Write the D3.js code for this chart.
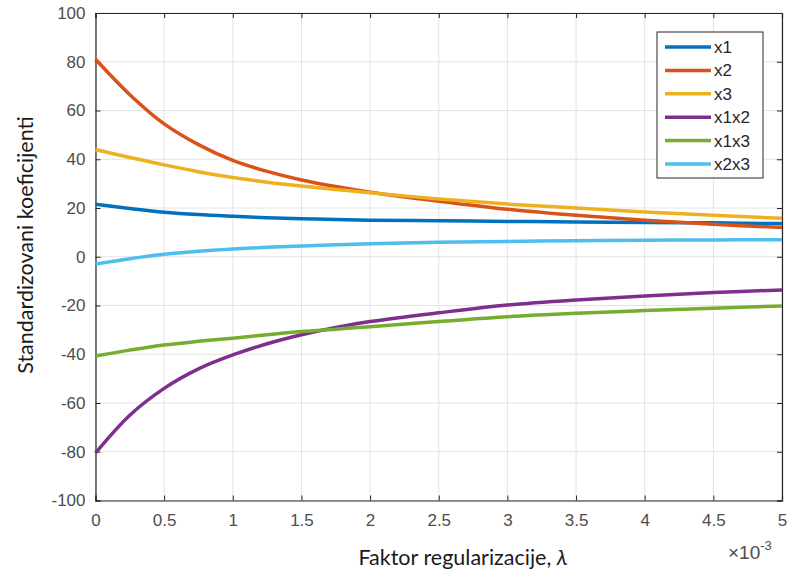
<!DOCTYPE html>
<html lang="sr">
<head>
<meta charset="UTF-8">
<title>Standardizovani koeficijenti</title>
<script src="https://cdn.jsdelivr.net/npm/d3@7"></script>
<style>
  body { margin: 0; background: #fff; }
  svg { display: block; }
  .tick text { font-family: "Liberation Sans", Arial, sans-serif; font-size: 17px; fill: #4d4d4d; }
  .lbl { font-family: Lato, "Open Sans", sans-serif; font-size: 21.5px; fill: #1a1a1a; }
  .leg { font-family: "Liberation Sans", Arial, sans-serif; font-size: 17px; fill: #262626; }
</style>
</head>
<body>
<svg width="787" height="571"></svg>
<script>
// lambda (x 10^-3)
const lambda = [0, 0.25, 0.5, 0.75, 1, 1.25, 1.5, 1.75, 2, 2.5, 3, 3.5, 4, 4.5, 5];
const x1   = [21.5, 19.8, 18.3, 17.3, 16.6, 16.0, 15.6, 15.3, 15.0, 14.8, 14.5, 14.3, 14.1, 13.9, 13.6];
const x2   = [81, 66.5, 54.5, 46, 39.5, 35, 31.5, 28.8, 26.5, 22.8, 19.5, 17, 15, 13.3, 12];
const x3   = [44, 40.7, 37.7, 34.9, 32.5, 30.6, 29, 27.6, 26.3, 23.7, 21.6, 20, 18.4, 17, 15.8];
const x1x2 = [-80.5, -65, -54, -46, -40.3, -35.7, -32, -29, -26.6, -23, -19.8, -17.7, -16.1, -14.7, -13.6];
const x1x3 = [-40.7, -38.3, -36.2, -34.7, -33.4, -32, -30.7, -29.7, -28.7, -26.6, -24.6, -23.2, -22.1, -21.1, -20.2];
const x2x3 = [-3, -0.8, 1, 2.3, 3.2, 3.9, 4.4, 4.9, 5.3, 5.9, 6.3, 6.6, 6.8, 6.9, 7];

const seriesNames = ["x1", "x2", "x3", "x1x2", "x1x3", "x2x3"];
const seriesVals = [x1, x2, x3, x1x2, x1x3, x2x3];
const colors = ["#0072BD", "#D95319", "#EDB120", "#7E2F8E", "#77AC30", "#4DBEEE"];

const xTicks = [0, 0.5, 1, 1.5, 2, 2.5, 3, 3.5, 4, 4.5, 5];
const yTicks = [-100, -80, -60, -40, -20, 0, 20, 40, 60, 80, 100];

const L = 95.5, R = 782, T = 13, B = 500.5;
const svg = d3.select("svg");
const x = d3.scaleLinear().domain([0, 5]).range([L, R]);
const y = d3.scaleLinear().domain([-100, 100]).range([B, T]);

// grid
const grid = svg.append("g").attr("stroke", "#e3e3e3").attr("stroke-width", 1);
grid.selectAll(".gx").data(xTicks).join("line")
  .attr("x1", d => x(d)).attr("x2", d => x(d)).attr("y1", T).attr("y2", B);
grid.selectAll(".gy").data(yTicks).join("line")
  .attr("y1", d => y(d)).attr("y2", d => y(d)).attr("x1", L).attr("x2", R);

// axes, ticks inward
const fmt = d => String(d);
const axB = svg.append("g").attr("transform", `translate(0,${B})`)
  .call(d3.axisBottom(x).tickValues(xTicks).tickFormat(fmt).tickSize(-5).tickPadding(13));
const axT = svg.append("g").attr("transform", `translate(0,${T})`)
  .call(d3.axisTop(x).tickValues(xTicks).tickFormat("").tickSize(-5));
const axL = svg.append("g").attr("transform", `translate(${L},0)`)
  .call(d3.axisLeft(y).tickValues(yTicks).tickFormat(fmt).tickSize(-5).tickPadding(10));
const axR = svg.append("g").attr("transform", `translate(${R},0)`)
  .call(d3.axisRight(y).tickValues(yTicks).tickFormat("").tickSize(-5));
[axB, axT, axL, axR].forEach(a => {
  a.select(".domain").attr("stroke", "#262626").attr("stroke-width", 1.2);
  a.selectAll(".tick line").attr("stroke", "#262626");
});

// lines
const line = d3.line().x((d, i) => x(lambda[i])).y(d => y(d)).curve(d3.curveCatmullRom.alpha(0.5));
svg.append("g").selectAll("path").data(seriesVals).join("path")
  .attr("d", line).attr("fill", "none")
  .attr("stroke", (d, i) => colors[i]).attr("stroke-width", 3.5);

// legend
const lg = svg.append("g");
lg.append("rect").attr("x", 657).attr("y", 32).attr("width", 106).attr("height", 146)
  .attr("fill", "#fff").attr("stroke", "#262626").attr("stroke-width", 1);
seriesNames.forEach((n, i) => {
  const yy = 47 + i * 23.4;
  lg.append("line").attr("x1", 665).attr("x2", 711).attr("y1", yy).attr("y2", yy)
    .attr("stroke", colors[i]).attr("stroke-width", 3.5);
  lg.append("text").attr("class", "leg").attr("x", 714).attr("y", yy + 6).text(n);
});

// labels
svg.append("text").attr("class", "lbl").attr("text-anchor", "middle")
  .attr("transform", "translate(33,245) rotate(-90)").text("Standardizovani koeficijenti");
const xl = svg.append("text").attr("class", "lbl").attr("text-anchor", "middle")
  .attr("x", 463).attr("y", 565);
xl.append("tspan").text("Faktor regularizacije, ");
xl.append("tspan").attr("font-style", "italic").text("λ");

const ex = svg.append("text").attr("x", 728).attr("y", 559)
  .attr("font-family", "Liberation Sans, Arial, sans-serif").attr("font-size", 19).attr("fill", "#4d4d4d");
ex.append("tspan").text("×10");
ex.append("tspan").attr("font-size", 13).attr("dy", -9).text("-3");
</script>
</body>
</html>
